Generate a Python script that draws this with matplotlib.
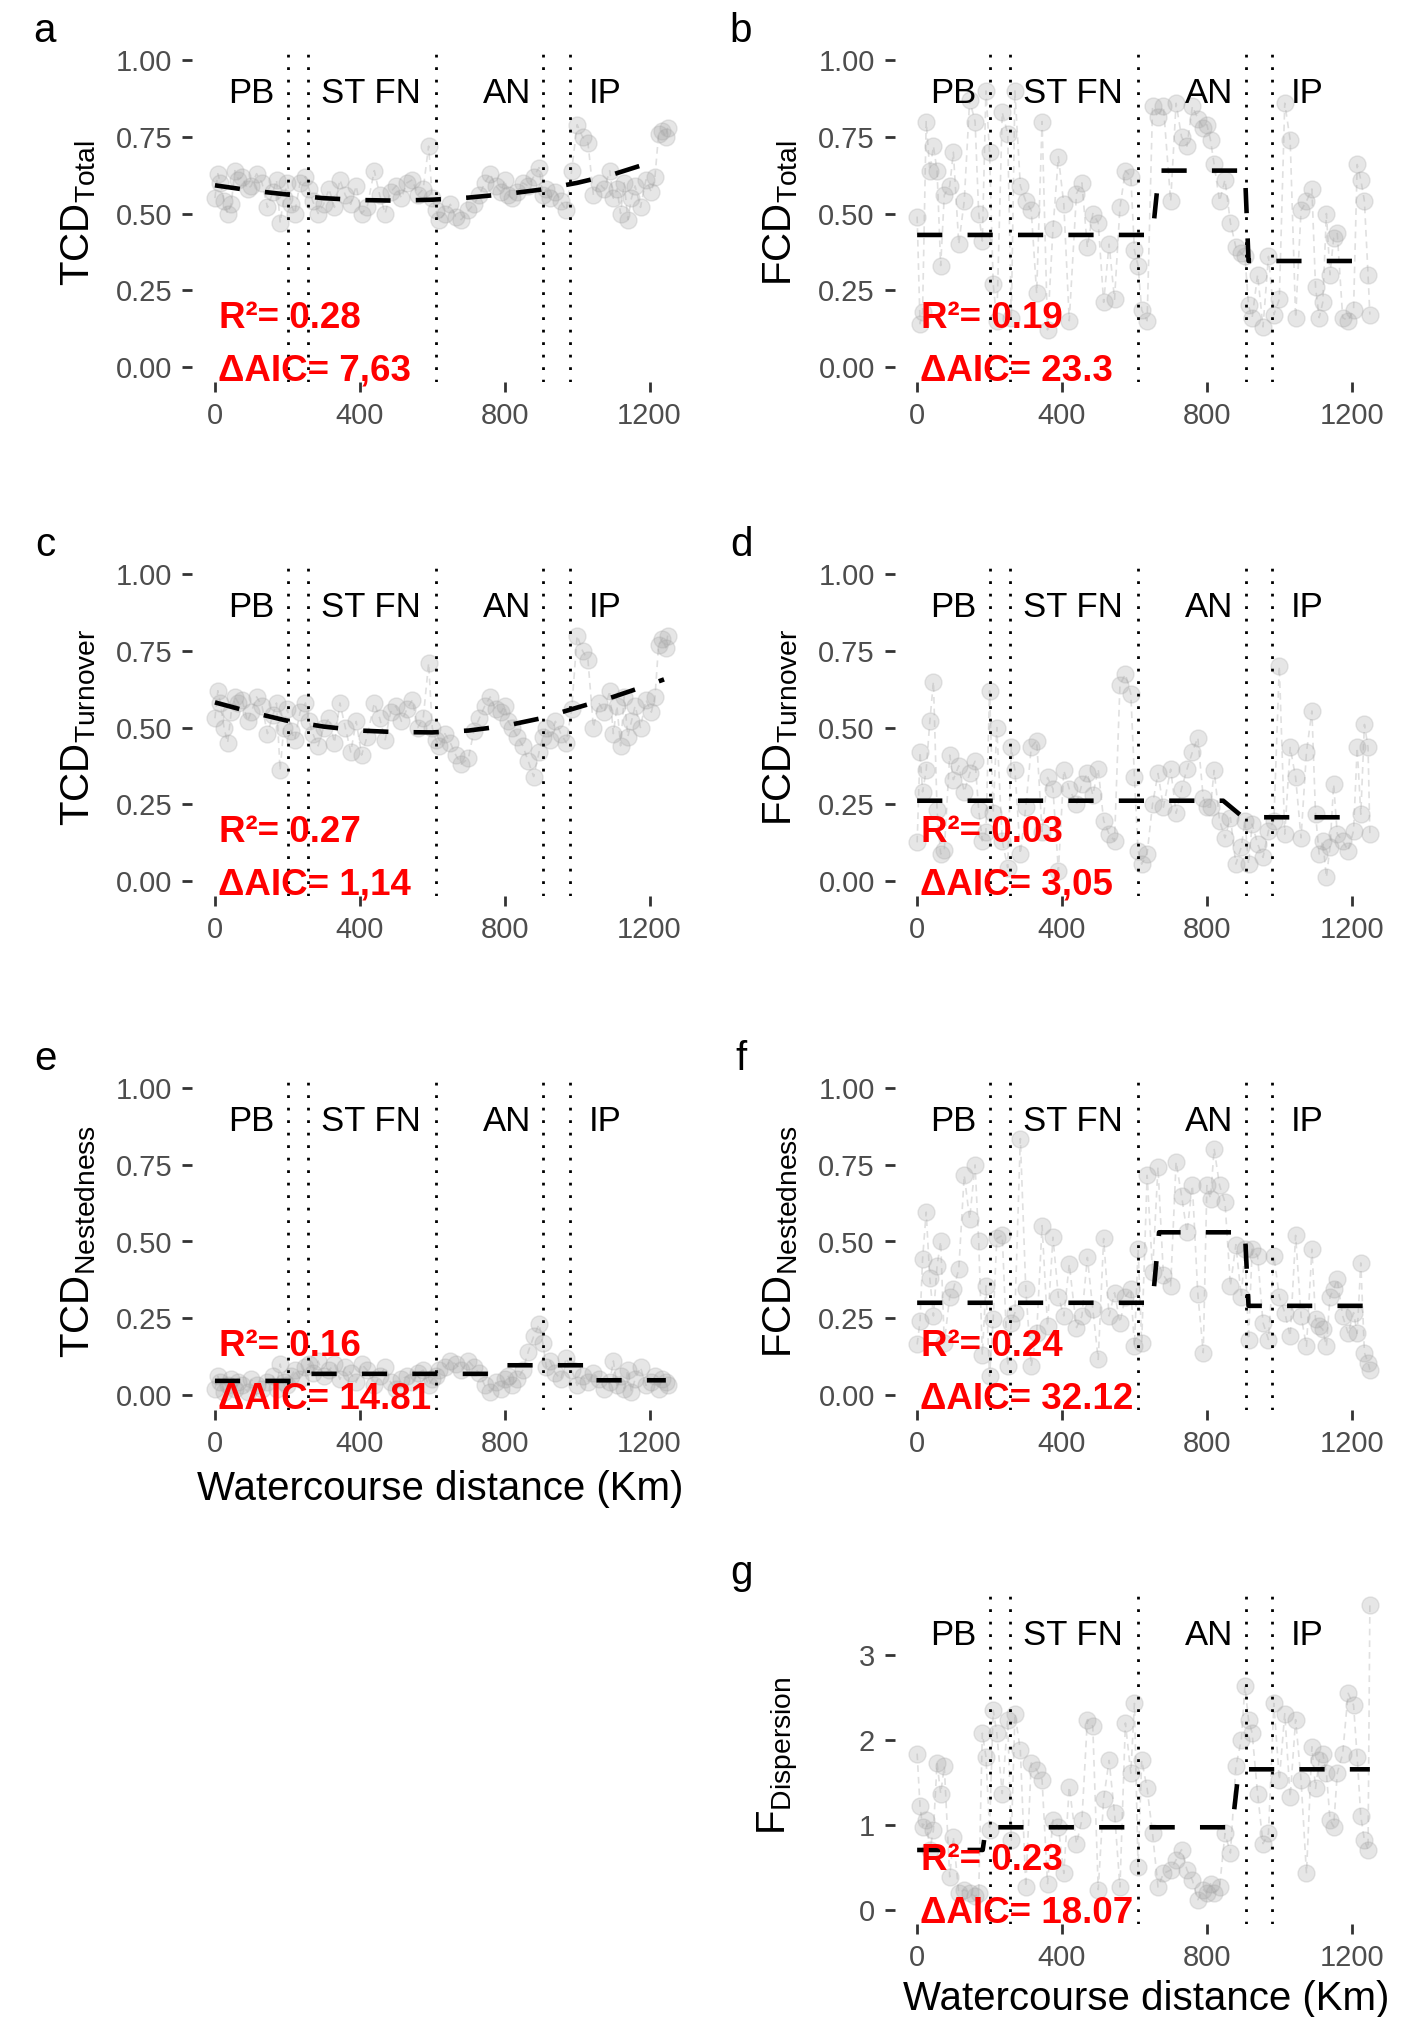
import numpy as np
import matplotlib.pyplot as plt
import matplotlib.transforms as mtransforms

plt.rcParams['font.family'] = ['Liberation Sans', 'DejaVu Sans']
plt.rcParams['mathtext.fontset'] = 'custom'
plt.rcParams['mathtext.rm'] = 'Liberation Sans'
plt.rcParams['mathtext.it'] = 'Liberation Sans:italic'
plt.rcParams['mathtext.bf'] = 'Liberation Sans:bold'

# site positions along the watercourse (km)
km = [0, 8, 15, 25, 35, 45, 55, 65, 75, 90, 100, 115, 130, 145, 160, 170, 180, 190, 200,
      210, 220, 235, 250,
      260, 270, 285, 300, 315, 330, 345, 360, 375, 390, 405, 420, 440, 455, 470, 485, 500,
      515, 530, 545, 560, 575, 590, 600,
      610, 620, 635, 650, 665, 680, 700, 715, 730, 745, 760, 775, 790, 800, 810, 820, 835,
      850, 865, 880, 895, 905,
      915, 925, 940, 955, 970,
      985, 1000, 1015, 1030, 1045, 1060, 1075, 1090, 1100, 1110, 1120, 1130, 1140, 1150,
      1160, 1175, 1190, 1205, 1215, 1225, 1235, 1245, 1250]

tcd_total = [0.55, 0.63, 0.60, 0.54, 0.50, 0.53, 0.64, 0.61, 0.62, 0.58, 0.59, 0.63, 0.60, 0.52, 0.57, 0.61, 0.47, 0.55, 0.60,
             0.53, 0.50, 0.60, 0.62,
             0.58, 0.54, 0.50, 0.53, 0.58, 0.52, 0.61, 0.56, 0.53, 0.59, 0.50, 0.52, 0.64, 0.56, 0.50, 0.57, 0.59, 0.55, 0.60, 0.61, 0.56, 0.58, 0.72, 0.55,
             0.51, 0.48, 0.50, 0.53, 0.49, 0.48, 0.51, 0.53, 0.56, 0.60, 0.63, 0.59, 0.57, 0.61, 0.56, 0.55, 0.57, 0.60, 0.59, 0.62, 0.65, 0.56,
             0.58, 0.55, 0.57, 0.54, 0.51,
             0.64, 0.79, 0.75, 0.73, 0.56, 0.60, 0.58, 0.64, 0.55, 0.58, 0.50, 0.60, 0.48, 0.55, 0.59, 0.52, 0.61, 0.57, 0.62, 0.76, 0.77, 0.75, 0.78]

tcd_turnover = [0.53, 0.62, 0.58, 0.50, 0.45, 0.55, 0.60, 0.58, 0.59, 0.52, 0.55, 0.60, 0.57, 0.48, 0.54, 0.58, 0.36, 0.50, 0.56,
                0.49, 0.46, 0.55, 0.58,
                0.52, 0.48, 0.44, 0.50, 0.53, 0.45, 0.58, 0.50, 0.42, 0.52, 0.41, 0.47, 0.58, 0.53, 0.46, 0.55, 0.57, 0.52, 0.56, 0.59, 0.50, 0.53, 0.71, 0.50,
                0.46, 0.44, 0.48, 0.45, 0.41, 0.38, 0.40, 0.49, 0.53, 0.57, 0.60, 0.56, 0.55, 0.57, 0.52, 0.50, 0.47, 0.44, 0.39, 0.34, 0.42, 0.47,
                0.50, 0.46, 0.52, 0.48, 0.45,
                0.56, 0.80, 0.75, 0.72, 0.50, 0.58, 0.55, 0.62, 0.48, 0.57, 0.44, 0.60, 0.47, 0.52, 0.57, 0.50, 0.59, 0.55, 0.60, 0.77, 0.79, 0.76, 0.80]

tcd_nested = [0.02, 0.06, 0.04, 0.01, 0.03, 0.05, 0.02, 0.04, 0.03, 0.01, 0.05, 0.03, 0.02, 0.04, 0.06, 0.02, 0.10, 0.04, 0.03,
              0.06, 0.08, 0.05, 0.09,
              0.10, 0.07, 0.11, 0.06, 0.08, 0.10, 0.05, 0.09, 0.07, 0.04, 0.10, 0.08, 0.03, 0.06, 0.09, 0.04, 0.02, 0.05, 0.06, 0.04, 0.07, 0.08, 0.03, 0.05,
              0.06, 0.08, 0.09, 0.11, 0.10, 0.08, 0.11, 0.09, 0.07, 0.03, 0.01, 0.04, 0.02, 0.05, 0.06, 0.03, 0.05, 0.08, 0.14, 0.19, 0.23, 0.17,
              0.09, 0.11, 0.07, 0.05, 0.12,
              0.08, 0.03, 0.06, 0.04, 0.07, 0.05, 0.02, 0.04, 0.11, 0.03, 0.06, 0.02, 0.08, 0.01, 0.05, 0.09, 0.03, 0.04, 0.06, 0.02, 0.05, 0.04, 0.03]

fcd_total = [0.49, 0.14, 0.18, 0.80, 0.64, 0.72, 0.64, 0.33, 0.56, 0.59, 0.70, 0.40, 0.54, 0.87, 0.80, 0.50, 0.41, 0.90, 0.70,
             0.27, 0.15, 0.83, 0.76,
             0.16, 0.90, 0.59, 0.54, 0.51, 0.24, 0.80, 0.12, 0.45, 0.685, 0.53, 0.15, 0.565, 0.60, 0.39, 0.50, 0.47, 0.21, 0.40, 0.22, 0.52, 0.64, 0.62, 0.38,
             0.33, 0.185, 0.15, 0.85, 0.815, 0.85, 0.54, 0.86, 0.75, 0.72, 0.85, 0.81, 0.78, 0.79, 0.74, 0.66, 0.54, 0.61, 0.47, 0.39, 0.37, 0.36,
             0.20, 0.16, 0.30, 0.13, 0.36,
             0.17, 0.22, 0.86, 0.74, 0.16, 0.51, 0.54, 0.58, 0.26, 0.16, 0.21, 0.50, 0.30, 0.42, 0.435, 0.16, 0.15, 0.185, 0.66, 0.61, 0.54, 0.30, 0.17]

fcd_turnover = [0.125, 0.42, 0.29, 0.36, 0.52, 0.65, 0.23, 0.087, 0.10, 0.41, 0.33, 0.375, 0.29, 0.35, 0.39, 0.23, 0.13, 0.16, 0.62,
                0.22, 0.50, 0.13, 0.043,
                0.435, 0.36, 0.087, 0.24, 0.435, 0.457, 0.16, 0.337, 0.30, 0.033, 0.36, 0.30, 0.25, 0.315, 0.35, 0.28, 0.364, 0.196, 0.152, 0.13, 0.64, 0.674, 0.61, 0.337,
                0.098, 0.054, 0.087, 0.25, 0.35, 0.24, 0.364, 0.22, 0.30, 0.364, 0.42, 0.467, 0.27, 0.24, 0.24, 0.36, 0.196, 0.14, 0.206, 0.054, 0.11, 0.196,
                0.054, 0.185, 0.12, 0.076, 0.163,
                0.196, 0.70, 0.152, 0.435, 0.337, 0.14, 0.42, 0.554, 0.217, 0.087, 0.13, 0.011, 0.11, 0.315, 0.152, 0.13, 0.098, 0.163, 0.435, 0.217, 0.51, 0.435, 0.152]

fcd_nested = [0.164, 0.24, 0.443, 0.596, 0.38, 0.257, 0.42, 0.50, 0.17, 0.32, 0.344, 0.41, 0.716, 0.574, 0.75, 0.50, 0.13, 0.355, 0.06,
              0.246, 0.51, 0.52, 0.093,
              0.235, 0.268, 0.836, 0.344, 0.093, 0.20, 0.552, 0.224, 0.514, 0.32, 0.257, 0.426, 0.219, 0.257, 0.448, 0.28, 0.115, 0.51, 0.257, 0.333, 0.235, 0.32, 0.344, 0.16,
              0.475, 0.17, 0.716, 0.40, 0.743, 0.39, 0.355, 0.76, 0.65, 0.53, 0.683, 0.328, 0.137, 0.683, 0.64, 0.803, 0.683, 0.628, 0.355, 0.49, 0.32, 0.475,
              0.18, 0.475, 0.453, 0.235, 0.18,
              0.453, 0.32, 0.268, 0.19, 0.52, 0.257, 0.158, 0.475, 0.246, 0.224, 0.213, 0.158, 0.32, 0.344, 0.377, 0.257, 0.20, 0.268, 0.20, 0.43, 0.137, 0.104, 0.082]

f_dispersion = [1.84, 1.22, 0.98, 1.06, 0.71, 0.94, 1.73, 1.37, 1.69, 0.39, 0.86, 0.20, 0.24, 0.20, 0.16, 0.20, 2.08, 1.80, 0.94,
                2.35, 2.08, 1.37, 2.24,
                0.82, 2.31, 1.88, 0.27, 1.73, 1.65, 1.53, 0.31, 1.06, 0.98, 0.43, 1.45, 0.78, 1.06, 2.24, 2.16, 0.24, 1.31, 1.76, 1.14, 0.27, 2.20, 1.61, 2.43,
                0.51, 1.76, 1.43, 0.90, 0.27, 0.43, 0.47, 0.59, 0.71, 0.47, 0.35, 0.12, 0.24, 0.20, 0.31, 0.20, 0.27, 0.90, 0.67, 1.69, 2.00, 2.63,
                2.24, 2.08, 1.37, 0.78, 0.90,
                2.43, 1.53, 2.31, 1.33, 2.24, 1.53, 0.43, 1.92, 1.43, 1.76, 1.84, 1.61, 1.06, 0.98, 1.61, 1.84, 2.55, 2.41, 1.80, 1.10, 0.82, 0.71, 3.59]

# fitted model curves
fit_a_x = [0, 100, 200, 300, 400, 500, 600, 700, 800, 900, 1000, 1100, 1180]
fit_a_y = [0.592, 0.575, 0.562, 0.550, 0.544, 0.542, 0.545, 0.552, 0.563, 0.578, 0.600, 0.628, 0.658]
fit_b_x = [0, 650, 668, 905, 915, 1220]
fit_b_y = [0.43, 0.43, 0.64, 0.64, 0.345, 0.345]
fit_c_x = [0, 100, 200, 300, 400, 500, 600, 700, 800, 900, 1000, 1100, 1200, 1240]
fit_c_y = [0.582, 0.550, 0.522, 0.503, 0.490, 0.485, 0.484, 0.490, 0.505, 0.530, 0.565, 0.600, 0.640, 0.657]
fit_d_x = [0, 845, 900, 1185]
fit_d_y = [0.261, 0.261, 0.207, 0.207]
fit_e_x = [0, 245, 255, 785, 795, 1040, 1050, 1245]
fit_e_y = [0.045, 0.045, 0.068, 0.068, 0.096, 0.096, 0.047, 0.047]
fit_f_x = [0, 650, 668, 905, 915, 1232]
fit_f_y = [0.30, 0.30, 0.53, 0.53, 0.29, 0.29]
fit_g_x = [0, 181, 190, 870, 888, 1250]
fit_g_y = [0.706, 0.706, 0.973, 0.973, 1.655, 1.655]

# region boundaries and names
breaks = [201, 256, 610, 907, 981]
regions = ['PB', 'ST FN', 'AN', 'IP']
region_x = [99, 430, 807, 1078]

r2 = ['0.28', '0.19', '0.27', '0.03', '0.16', '0.24', '0.23']
daic = ['7,63', '23.3', '1,14', '3,05', '14.81', '32.12', '18.07']

unit_ticks = [0, 0.25, 0.5, 0.75, 1.0]
unit_labels = ['0.00', '0.25', '0.50', '0.75', '1.00']
disp_ticks = [0, 1, 2, 3]
disp_labels = ['0', '1', '2', '3']

panels = [
    ('a', r'TCD$_{\mathrm{Total}}$', tcd_total, fit_a_x, fit_a_y, 0, 0),
    ('b', r'FCD$_{\mathrm{Total}}$', fcd_total, fit_b_x, fit_b_y, 0, 1),
    ('c', r'TCD$_{\mathrm{Turnover}}$', tcd_turnover, fit_c_x, fit_c_y, 1, 0),
    ('d', r'FCD$_{\mathrm{Turnover}}$', fcd_turnover, fit_d_x, fit_d_y, 1, 1),
    ('e', r'TCD$_{\mathrm{Nestedness}}$', tcd_nested, fit_e_x, fit_e_y, 2, 0),
    ('f', r'FCD$_{\mathrm{Nestedness}}$', fcd_nested, fit_f_x, fit_f_y, 2, 1),
    ('g', r'F$_{\mathrm{Dispersion}}$', f_dispersion, fit_g_x, fit_g_y, 3, 1),
]

W, H = 1415, 2017
fig = plt.figure(figsize=(W / 100, H / 100), dpi=100)
fig.patch.set_facecolor('white')

col_left = [192.3, 894.5]
row_top = [45, 559, 1073, 1587]
ax_w, ax_h = 498, 337
letter_x = [45, 741]
letter_base = [42, 556, 1070, 1584]

for i, (letter, ylab, yv, fx, fy, row, col) in enumerate(panels):
    ax = fig.add_axes([col_left[col] / W, 1 - (row_top[row] + ax_h) / H, ax_w / W, ax_h / H])
    ax.plot(km, yv, ls=(0, (4, 3)), color='#e0e0e0', lw=1.2, zorder=1)
    ax.scatter(km, yv, s=150, facecolor='#a6a6a6', edgecolor='#a6a6a6',
               linewidths=1.0, alpha=0.27, zorder=2)
    ax.plot(fx, fy, color='black', lw=3.3, ls=(0, (5.5, 5.5)), zorder=3)
    for b in breaks:
        ax.axvline(b, color='black', lw=2.0, ls=(0, (1, 3.5)), zorder=4)

    ax.set_xlim(-62.5, 1312.5)
    ax.set_xticks([0, 400, 800, 1200])
    if letter == 'g':
        ax.set_ylim(-0.165, 3.8)
        ax.set_yticks(disp_ticks)
        ax.set_yticklabels(disp_labels)
    else:
        ax.set_ylim(-0.05, 1.05)
        ax.set_yticks(unit_ticks)
        ax.set_yticklabels(unit_labels)
    for s in ax.spines.values():
        s.set_visible(False)
    ax.tick_params(axis='both', length=7.2, width=2.0, color='#333333',
                   labelcolor='#4d4d4d', labelsize=21, pad=7)

    ax.set_ylabel(ylab, fontsize=29)
    ax.yaxis.set_label_coords(-0.19, 0.5)

    trans = mtransforms.blended_transform_factory(ax.transData, ax.transAxes)
    for name, rx in zip(regions, region_x):
        ax.text(rx, 0.857, name, transform=trans, ha='center', va='center',
                fontsize=25, color='black', zorder=5)
    ax.text(12, 0.16, 'R²= ' + r2[i], transform=trans, ha='left', va='baseline',
            fontsize=26.5, fontweight='bold', color='#ff0000', zorder=6)
    ax.text(8, 0.004, 'ΔAIC= ' + daic[i], transform=trans, ha='left', va='baseline',
            fontsize=26.5, fontweight='bold', color='#ff0000', zorder=6)

    fig.text(letter_x[col] / W, 1 - letter_base[row] / H, letter, ha='center',
             va='baseline', fontsize=29)

fig.text(440 / W, 1 - 1500 / H, 'Watercourse distance (Km)', ha='center',
         va='baseline', fontsize=29)
fig.text(1146 / W, 1 - 2010 / H, 'Watercourse distance (Km)', ha='center',
         va='baseline', fontsize=29)

fig.savefig('out.png', dpi=100, facecolor='white')
